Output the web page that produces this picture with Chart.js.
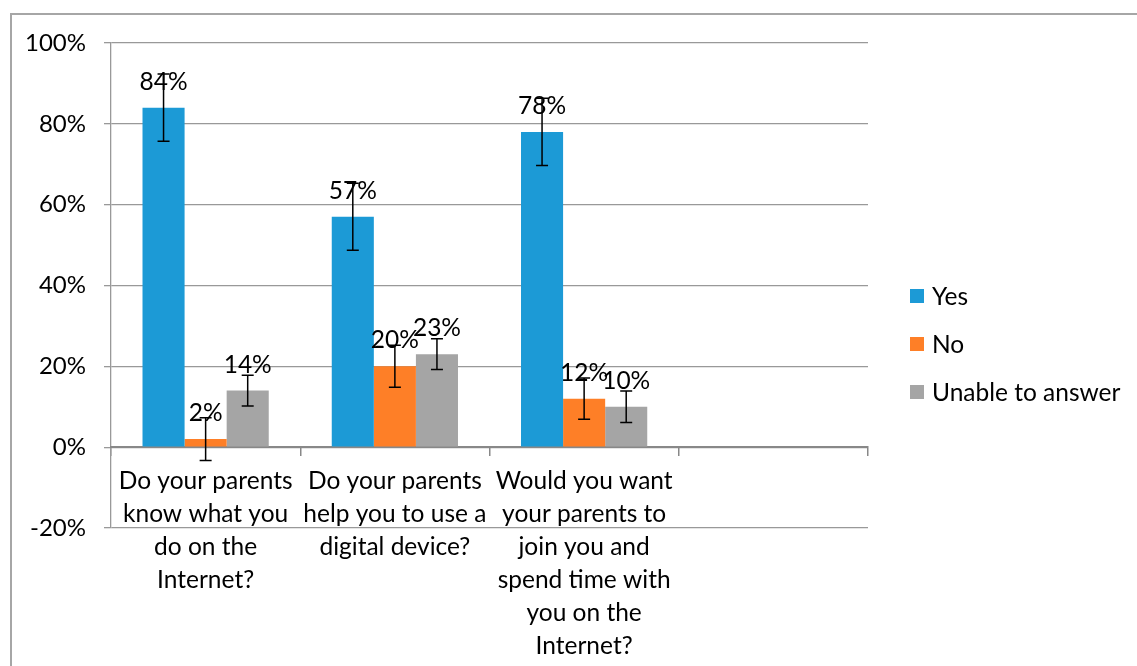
<!DOCTYPE html>
<html>
<head>
<meta charset="utf-8">
<script src="https://cdn.jsdelivr.net/npm/chart.js"></script>
<style>
  html, body { margin: 0; padding: 0; background: #fff; }
  #frame {
    position: absolute; left: 10px; top: 13px; width: 1140px; height: 670px;
    border-left: 2px solid #a6a6a6; border-top: 2px solid #a6a6a6;
  }
  #wrap { position: absolute; left: 0; top: 0; width: 1137px; height: 666px; }
</style>
</head>
<body>
<div id="frame"></div>
<div id="wrap"><canvas id="chart" width="1137" height="666"></canvas></div>
<script>
    // Chart data
    const categories = [
        ['Do your parents', 'know what you', 'do on the', 'Internet?'],
        ['Do your parents', 'help you to use a', 'digital device?'],
        ['Would you want', 'your parents to', 'join you and', 'spend time with', 'you on the', 'Internet?'],
        ''
    ];
    const seriesNames = ['Yes', 'No', 'Unable to answer'];
    const yesValues = [84, 57, 78];
    const noValues = [2, 20, 12];
    const unableValues = [14, 23, 10];
    // error bar half-lengths (percentage points)
    const yesErrors = [8.3, 8.3, 8.3];
    const noErrors = [5.3, 5.2, 5.1];
    const unableErrors = [3.8, 3.8, 3.9];
    const yTicks = [-20, 0, 20, 40, 60, 80, 100];

    const colors = ['#1c9ad6', '#fe7f27', '#a5a5a5'];
    const FONT = 'Lato';
    const TEXT_SIZE = 24.5;

    // error bars, value labels and legend
    const barExtras = {
        id: 'barExtras',
        afterDatasetsDraw(chart) {
            const ctx = chart.ctx;
            const y = chart.scales.y;
            ctx.save();
            chart.data.datasets.forEach((ds, di) => {
                const meta = chart.getDatasetMeta(di);
                meta.data.forEach((bar, i) => {
                    const v = ds.data[i];
                    if (v == null) return;
                    ctx.fillStyle = '#000';
                    ctx.font = TEXT_SIZE + 'px ' + FONT;
                    ctx.textAlign = 'center';
                    ctx.textBaseline = 'alphabetic';
                    ctx.fillText(v + '%', bar.x, bar.y - 18);
                });
            });
            chart.data.datasets.forEach((ds, di) => {
                const meta = chart.getDatasetMeta(di);
                meta.data.forEach((bar, i) => {
                    const v = ds.data[i];
                    if (v == null) return;
                    const e = ds.errors[i];
                    const top = y.getPixelForValue(v + e);
                    const bot = y.getPixelForValue(v - e);
                    ctx.strokeStyle = '#000';
                    ctx.lineWidth = 1.5;
                    ctx.beginPath();
                    ctx.moveTo(bar.x, top); ctx.lineTo(bar.x, bot);
                    ctx.moveTo(bar.x - 6, top); ctx.lineTo(bar.x + 6, top);
                    ctx.moveTo(bar.x - 6, bot); ctx.lineTo(bar.x + 6, bot);
                    ctx.stroke();
                });
            });
            // legend
            const lx = 910, ly = 296, gap = 48;
            chart.data.datasets.forEach((ds, di) => {
                const cy = ly + di * gap;
                ctx.fillStyle = ds.backgroundColor;
                ctx.fillRect(lx, cy - 7, 14, 14);
                ctx.fillStyle = '#000';
                ctx.font = TEXT_SIZE + 'px ' + FONT;
                ctx.textAlign = 'left';
                ctx.textBaseline = 'middle';
                ctx.fillText(ds.label, lx + 22, cy + 1);
            });
            ctx.restore();
        }
    };

    function initChart() {
        const ctx = document.getElementById('chart').getContext('2d');
        new Chart(ctx, {
            type: 'bar',
            data: {
                labels: categories,
                datasets: [
                    { label: seriesNames[0], data: yesValues, errors: yesErrors, backgroundColor: colors[0] },
                    { label: seriesNames[1], data: noValues, errors: noErrors, backgroundColor: colors[1] },
                    { label: seriesNames[2], data: unableValues, errors: unableErrors, backgroundColor: colors[2] }
                ]
            },
            options: {
                responsive: false,
                animation: false,
                layout: { padding: { left: 0, top: 43, right: 269, bottom: 138 } },
                datasets: { bar: { categoryPercentage: 0.667, barPercentage: 1.0 } },
                plugins: {
                    legend: { display: false },
                    tooltip: { enabled: false }
                },
                scales: {
                    y: {
                        min: -20,
                        max: 100,
                        afterFit(scale) { scale.width = 111; },
                        afterBuildTicks(scale) { scale.ticks = yTicks.map(v => ({ value: v })); },
                        ticks: {
                            padding: 18,
                            color: '#000',
                            font: { family: FONT, size: 24 },
                            callback: v => v + '%'
                        },
                        grid: { color: '#999', lineWidth: 1.3, tickLength: 7 },
                        border: { color: '#999', width: 1.3 }
                    },
                    x: {
                        position: { y: 0 },
                        ticks: {
                            padding: 10,
                            color: '#000',
                            autoSkip: false,
                            maxRotation: 0,
                            minRotation: 0,
                            font: { family: FONT, size: TEXT_SIZE, lineHeight: 1.34 }
                        },
                        grid: { drawOnChartArea: false, color: '#888', lineWidth: 1.5, tickLength: 8, offset: true },
                        border: { color: '#888', width: 2 }
                    }
                }
            },
            plugins: [barExtras]
        });
    }

    document.addEventListener('DOMContentLoaded', initChart);
</script>
</body>
</html>
